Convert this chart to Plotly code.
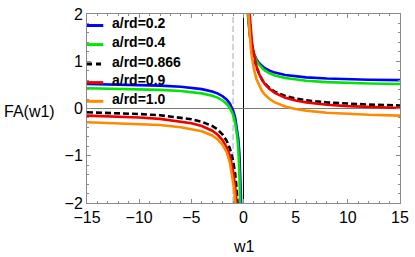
import plotly.graph_objects as go

# ---- data ----
series_labels = ["a/rd=0.2", "a/rd=0.4", "a/rd=0.866", "a/rd=0.9", "a/rd=1.0"]

blue_left_x = [-15, -12, -10, -8, -6, -5, -4, -3, -2.5, -2, -1.6, -1.3, -1.0, -0.8, -0.6, -0.5, -0.4, -0.35, -0.3, -0.25, -0.22]
blue_left_y = [0.52, 0.51, 0.50, 0.485, 0.46, 0.44, 0.41, 0.36, 0.32, 0.26, 0.185, 0.10, -0.04, -0.19, -0.44, -0.64, -0.94, -1.15, -1.44, -1.84, -2.17]
blue_right_x = [0.4, 0.45, 0.5, 0.55, 0.6, 0.65, 0.7, 0.8, 0.9, 1.0, 1.25, 1.5, 1.75, 2, 2.5, 3, 4, 5, 6, 8, 10, 12, 15]
blue_right_y = [2.06, 1.893, 1.76, 1.65, 1.56, 1.483, 1.417, 1.31, 1.227, 1.16, 1.04, 0.96, 0.903, 0.86, 0.80, 0.76, 0.71, 0.68, 0.66, 0.635, 0.62, 0.61, 0.60]

green_left_x = [-15, -12, -10, -8, -6, -5, -4, -3, -2.5, -2, -1.6, -1.3, -1.0, -0.8, -0.6, -0.5, -0.45, -0.4, -0.35, -0.32]
green_left_y = [0.43, 0.42, 0.41, 0.395, 0.37, 0.35, 0.32, 0.27, 0.23, 0.17, 0.095, 0.01, -0.13, -0.31, -0.6, -0.85, -1.05, -1.35, -1.75, -2.05]
green_right_x = [0.4, 0.45, 0.5, 0.55, 0.6, 0.65, 0.7, 0.8, 0.9, 1.0, 1.25, 1.5, 1.75, 2, 2.5, 3, 4, 5, 6, 8, 10, 12, 15]
green_right_y = [2.16, 1.975, 1.825, 1.70, 1.60, 1.513, 1.439, 1.319, 1.225, 1.15, 1.015, 0.925, 0.861, 0.8125, 0.745, 0.70, 0.644, 0.61, 0.5875, 0.559, 0.5425, 0.531, 0.52]

black_left_x = [-15, -12, -10, -8, -6, -5, -4, -3, -2.5, -2, -1.6, -1.3, -1.0, -0.9, -0.8, -0.7, -0.6, -0.56]
black_left_y = [-0.08, -0.10, -0.117, -0.144, -0.19, -0.226, -0.28, -0.37, -0.44, -0.55, -0.69, -0.85, -1.10, -1.22, -1.38, -1.6, -1.88, -2.05]
black_right_x = [0.5, 0.55, 0.6, 0.65, 0.7, 0.8, 0.9, 1.0, 1.25, 1.5, 1.75, 2, 2.5, 3, 4, 5, 6, 8, 10, 12, 15]
black_right_y = [2.17, 1.974, 1.809, 1.669, 1.549, 1.355, 1.203, 1.082, 0.864, 0.719, 0.615, 0.537, 0.428, 0.355, 0.265, 0.21, 0.174, 0.128, 0.101, 0.083, 0.065]

red_left_x = [-15, -12, -10, -8, -6, -5, -4, -3, -2.5, -2, -1.6, -1.3, -1.0, -0.9, -0.8, -0.7, -0.65]
red_left_y = [-0.15, -0.17, -0.19, -0.22, -0.27, -0.31, -0.37, -0.47, -0.55, -0.67, -0.83, -1.01, -1.32, -1.46, -1.65, -1.9, -2.06]
red_right_x = [0.55, 0.6, 0.65, 0.7, 0.8, 0.9, 1.0, 1.25, 1.5, 1.75, 2, 2.5, 3, 4, 5, 6, 8, 10, 12, 15]
red_right_y = [2.11, 1.93, 1.776, 1.644, 1.43, 1.263, 1.13, 0.89, 0.73, 0.616, 0.53, 0.41, 0.33, 0.23, 0.17, 0.13, 0.08, 0.05, 0.03, 0.01]

orange_left_x = [-15, -12, -10, -8, -6, -5, -4, -3, -2.5, -2, -1.6, -1.3, -1.0, -0.9, -0.8, -0.78]
orange_left_y = [-0.29, -0.31, -0.325, -0.35, -0.395, -0.43, -0.48, -0.57, -0.65, -0.77, -0.93, -1.15, -1.5, -1.7, -1.98, -2.06]
orange_right_x = [0.45, 0.5, 0.55, 0.6, 0.65, 0.7, 0.8, 0.9, 1.0, 1.25, 1.5, 1.75, 2, 2.5, 3, 4, 5, 6, 8, 10, 12, 15]
orange_right_y = [2.11, 1.88, 1.689, 1.53, 1.395, 1.28, 1.093, 0.947, 0.83, 0.62, 0.48, 0.38, 0.305, 0.20, 0.13, 0.0425, -0.01, -0.045, -0.089, -0.115, -0.1325, -0.15]

marker_line_x = -1.0

x_tick_vals = [-15, -10, -5, 0, 5, 10, 15]
x_tick_text = ["\u221215", "\u221210", "\u22125", "0", "5", "10", "15"]
y_tick_vals = [-2, -1, 0, 1, 2]
y_tick_text = ["\u22122", "\u22121", "0", "1", "2"]

# ---- styling ----
series = [
    (blue_left_x, blue_left_y, blue_right_x, blue_right_y, "#0000ff", "solid"),
    (green_left_x, green_left_y, green_right_x, green_right_y, "#00e600", "solid"),
    (black_left_x, black_left_y, black_right_x, black_right_y, "#000000", "6px,3px"),
    (red_left_x, red_left_y, red_right_x, red_right_y, "#ee0000", "solid"),
    (orange_left_x, orange_left_y, orange_right_x, orange_right_y, "#ff8a00", "solid"),
]

FONT = "Liberation Sans, Arial, sans-serif"
fig = go.Figure()

for (lx, ly, rx, ry, col, dash), name in zip(series, series_labels):
    fig.add_trace(go.Scatter(
        x=list(lx) + [None] + list(rx),
        y=list(ly) + [None] + list(ry),
        mode="lines", name=name, connectgaps=False,
        line=dict(color=col, width=2.6, dash=dash),
        showlegend=False, hoverinfo="skip",
    ))

fig.add_vline(x=marker_line_x, line=dict(color="#b4b8ee", width=1.3, dash="6px,3px"), layer="below")

# manual legend (top-left, inside frame)
row_y = [0.939, 0.838, 0.736, 0.637, 0.538]
for (_, _, _, _, col, dash), name, yy in zip(series, series_labels, row_y):
    fig.add_shape(type="line", xref="paper", yref="paper",
                  x0=0.0, x1=0.052, y0=yy, y1=yy,
                  line=dict(color=col, width=3, dash="5px,4px" if dash != "solid" else "solid"))
    fig.add_annotation(xref="paper", yref="paper", x=0.072, y=yy + 0.012,
                       text="<b>%s</b>" % name, showarrow=False,
                       xanchor="left", yanchor="middle",
                       font=dict(family=FONT, size=14, color="black"))

# axis titles
fig.add_annotation(xref="paper", yref="paper", x=-0.2727, y=0.482, text="FA(w1)",
                   showarrow=False, xanchor="left", yanchor="middle",
                   font=dict(family=FONT, size=16, color="black"))
fig.add_annotation(xref="paper", yref="paper", x=0.5, y=-0.232, text="w1",
                   showarrow=False, xanchor="center", yanchor="middle",
                   font=dict(family=FONT, size=16, color="black"))

axis_common = dict(
    showline=True, linecolor="#8a8a8a", linewidth=1, mirror="ticks",
    ticks="inside", tickcolor="#8a8a8a", ticklen=4, tickwidth=1,
    showgrid=False, tickfont=dict(family=FONT, size=16, color="black"),
    ticklabeloverflow="allow",
)
fig.update_xaxes(range=[-15, 15], tickvals=x_tick_vals, ticktext=x_tick_text,
                 zeroline=True, zerolinecolor="#000000", zerolinewidth=1,
                 minor=dict(dtick=1, ticks="inside", ticklen=2, tickcolor="#8a8a8a", showgrid=False),
                 **axis_common)
fig.update_yaxes(range=[-2, 2.0005], tickvals=y_tick_vals, ticktext=y_tick_text,
                 zeroline=True, zerolinecolor="#7a7a7a", zerolinewidth=1,
                 minor=dict(dtick=0.2, ticks="inside", ticklen=2, tickcolor="#8a8a8a", showgrid=False),
                 **axis_common)

fig.update_layout(
    width=415, height=257,
    margin=dict(l=87, r=9, t=6, b=54),
    paper_bgcolor="white", plot_bgcolor="white",
    showlegend=False,
)

fig.write_html("out.html", config={"displayModeBar": False},
               post_script="document.body.style.margin='0px';")
